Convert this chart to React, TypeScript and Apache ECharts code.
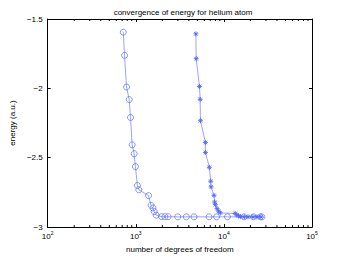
import React, { useEffect, useRef } from "react";
import * as echarts from "echarts";

const circleDof = [721, 745, 785, 842, 871, 910, 958, 990, 1043, 1082, 1394, 1487, 1566, 1619, 1706, 1961, 2137, 2328, 2991, 3745, 4580, 6790, 8263, 10980, 17000, 21650, 25900, 27000];
const circleEnergy = [-1.595, -1.762, -1.99, -2.081, -2.21, -2.407, -2.471, -2.564, -2.7, -2.731, -2.773, -2.843, -2.862, -2.888, -2.914, -2.925, -2.925, -2.925, -2.926, -2.926, -2.926, -2.926, -2.926, -2.926, -2.926, -2.926, -2.926, -2.926];

const starDof = [4805, 4846, 5283, 5375, 5420, 6170, 6170, 6840, 7080, 7150, 7720, 7850, 8000, 8360, 8720, 9100, 13420, 14010, 14680, 15460, 17060, 18770, 21360, 23680, 26240];
const starEnergy = [-1.607, -1.786, -1.986, -2.079, -2.233, -2.39, -2.462, -2.569, -2.669, -2.71, -2.771, -2.819, -2.838, -2.867, -2.886, -2.898, -2.901, -2.912, -2.919, -2.924, -2.926, -2.926, -2.926, -2.926, -2.926];

const minorTicks = [200, 300, 400, 500, 600, 700, 800, 900, 2000, 3000, 4000, 5000, 6000, 7000, 8000, 9000, 20000, 30000, 40000, 50000, 60000, 70000, 80000, 90000];

const yMin = -3;
const yMax = -1.5;

const FONT = "Liberation Sans, Arial, sans-serif";
const BLUE = "#5468ff";
const STAR = "path://M0,-5L0,5M-5,0L5,0M-3.5,-3.5L3.5,3.5M-3.5,3.5L3.5,-3.5";

export default function App() {
  const ref = useRef<HTMLDivElement>(null);
  useEffect(() => {
    const chart = echarts.init(ref.current!, null, { renderer: "svg" });
    const xBase = {
      type: "log" as const,
      logBase: 10,
      min: 100,
      max: 100000,
      splitLine: { show: false },
      axisLine: { show: true, lineStyle: { color: "#000", width: 1 } },
      axisTick: { show: true, inside: true, length: 3, lineStyle: { color: "#000", width: 1 } },
    };
    const yBase = {
      type: "value" as const,
      min: yMin,
      max: yMax,
      interval: 0.5,
      splitLine: { show: false },
      axisLine: { show: true, lineStyle: { color: "#000", width: 1 } },
      axisTick: { show: true, inside: true, length: 3, lineStyle: { color: "#000", width: 1 } },
    };
    chart.setOption({
      animation: false,
      backgroundColor: "#fff",
      title: {
        text: "convergence of energy for helium atom",
        left: 178,
        top: 3,
        textAlign: "center",
        textStyle: { fontFamily: FONT, fontSize: 8, fontWeight: "normal", color: "#000" },
      },
      grid: { left: 45, right: 31, top: 19, bottom: 29, show: false },
      xAxis: [
        {
          ...xBase,
          position: "bottom",
          name: "number of degrees of freedom",
          nameLocation: "middle",
          nameGap: 15,
          nameTextStyle: { fontFamily: FONT, fontSize: 8, color: "#000" },
          axisLabel: {
            margin: 3,
            formatter: (v: number) => `{b|10}{s|${Math.round(Math.log10(v))}}`,
            rich: {
              b: { fontFamily: FONT, fontSize: 8, color: "#000", lineHeight: 10, verticalAlign: "bottom" },
              s: { fontFamily: FONT, fontSize: 5, color: "#000", lineHeight: 10, verticalAlign: "top", padding: [0, 0, 4, 0] },
            },
          },
        },
        { ...xBase, position: "top", axisLabel: { show: false } },
      ],
      yAxis: [
        {
          ...yBase,
          position: "left",
          name: "energy (a.u.)",
          nameLocation: "middle",
          nameGap: 24,
          nameTextStyle: { fontFamily: FONT, fontSize: 8, color: "#000" },
          axisLabel: {
            margin: 5,
            fontFamily: FONT,
            fontSize: 8,
            color: "#000",
            formatter: (v: number) => String(v).replace("-", "\u2212"),
          },
        },
        { ...yBase, position: "right", axisLabel: { show: false } },
      ],
      series: [
        {
          type: "custom",
          silent: true,
          clip: false,
          data: minorTicks.map((v) => [v]),
          renderItem: (params: any, api: any) => {
            const v = api.value(0);
            const b = api.coord([v, yMin]);
            const t = api.coord([v, yMax]);
            const st = { stroke: "#000", lineWidth: 1 };
            return {
              type: "group",
              children: [
                { type: "line", shape: { x1: b[0], y1: b[1], x2: b[0], y2: b[1] - 2 }, style: st },
                { type: "line", shape: { x1: t[0], y1: t[1], x2: t[0], y2: t[1] + 2 }, style: st },
              ],
            };
          },
        },
        {
          type: "line",
          data: circleDof.map((x, i) => [x, circleEnergy[i]]),
          symbol: "circle",
          symbolSize: 6,
          lineStyle: { color: BLUE, width: 0.6 },
          itemStyle: { color: "rgba(255,255,255,0)", borderColor: BLUE, borderWidth: 0.7 },
        },
        {
          type: "line",
          data: starDof.map((x, i) => [x, starEnergy[i]]),
          symbol: STAR,
          symbolSize: 5,
          lineStyle: { color: BLUE, width: 0.6 },
          itemStyle: { color: BLUE, borderColor: BLUE, borderWidth: 0.9 },
        },
      ],
    });
    return () => chart.dispose();
  }, []);
  return <div ref={ref} style={{ position: "fixed", left: 0, top: 0, width: 343, height: 258 }} />;
}
